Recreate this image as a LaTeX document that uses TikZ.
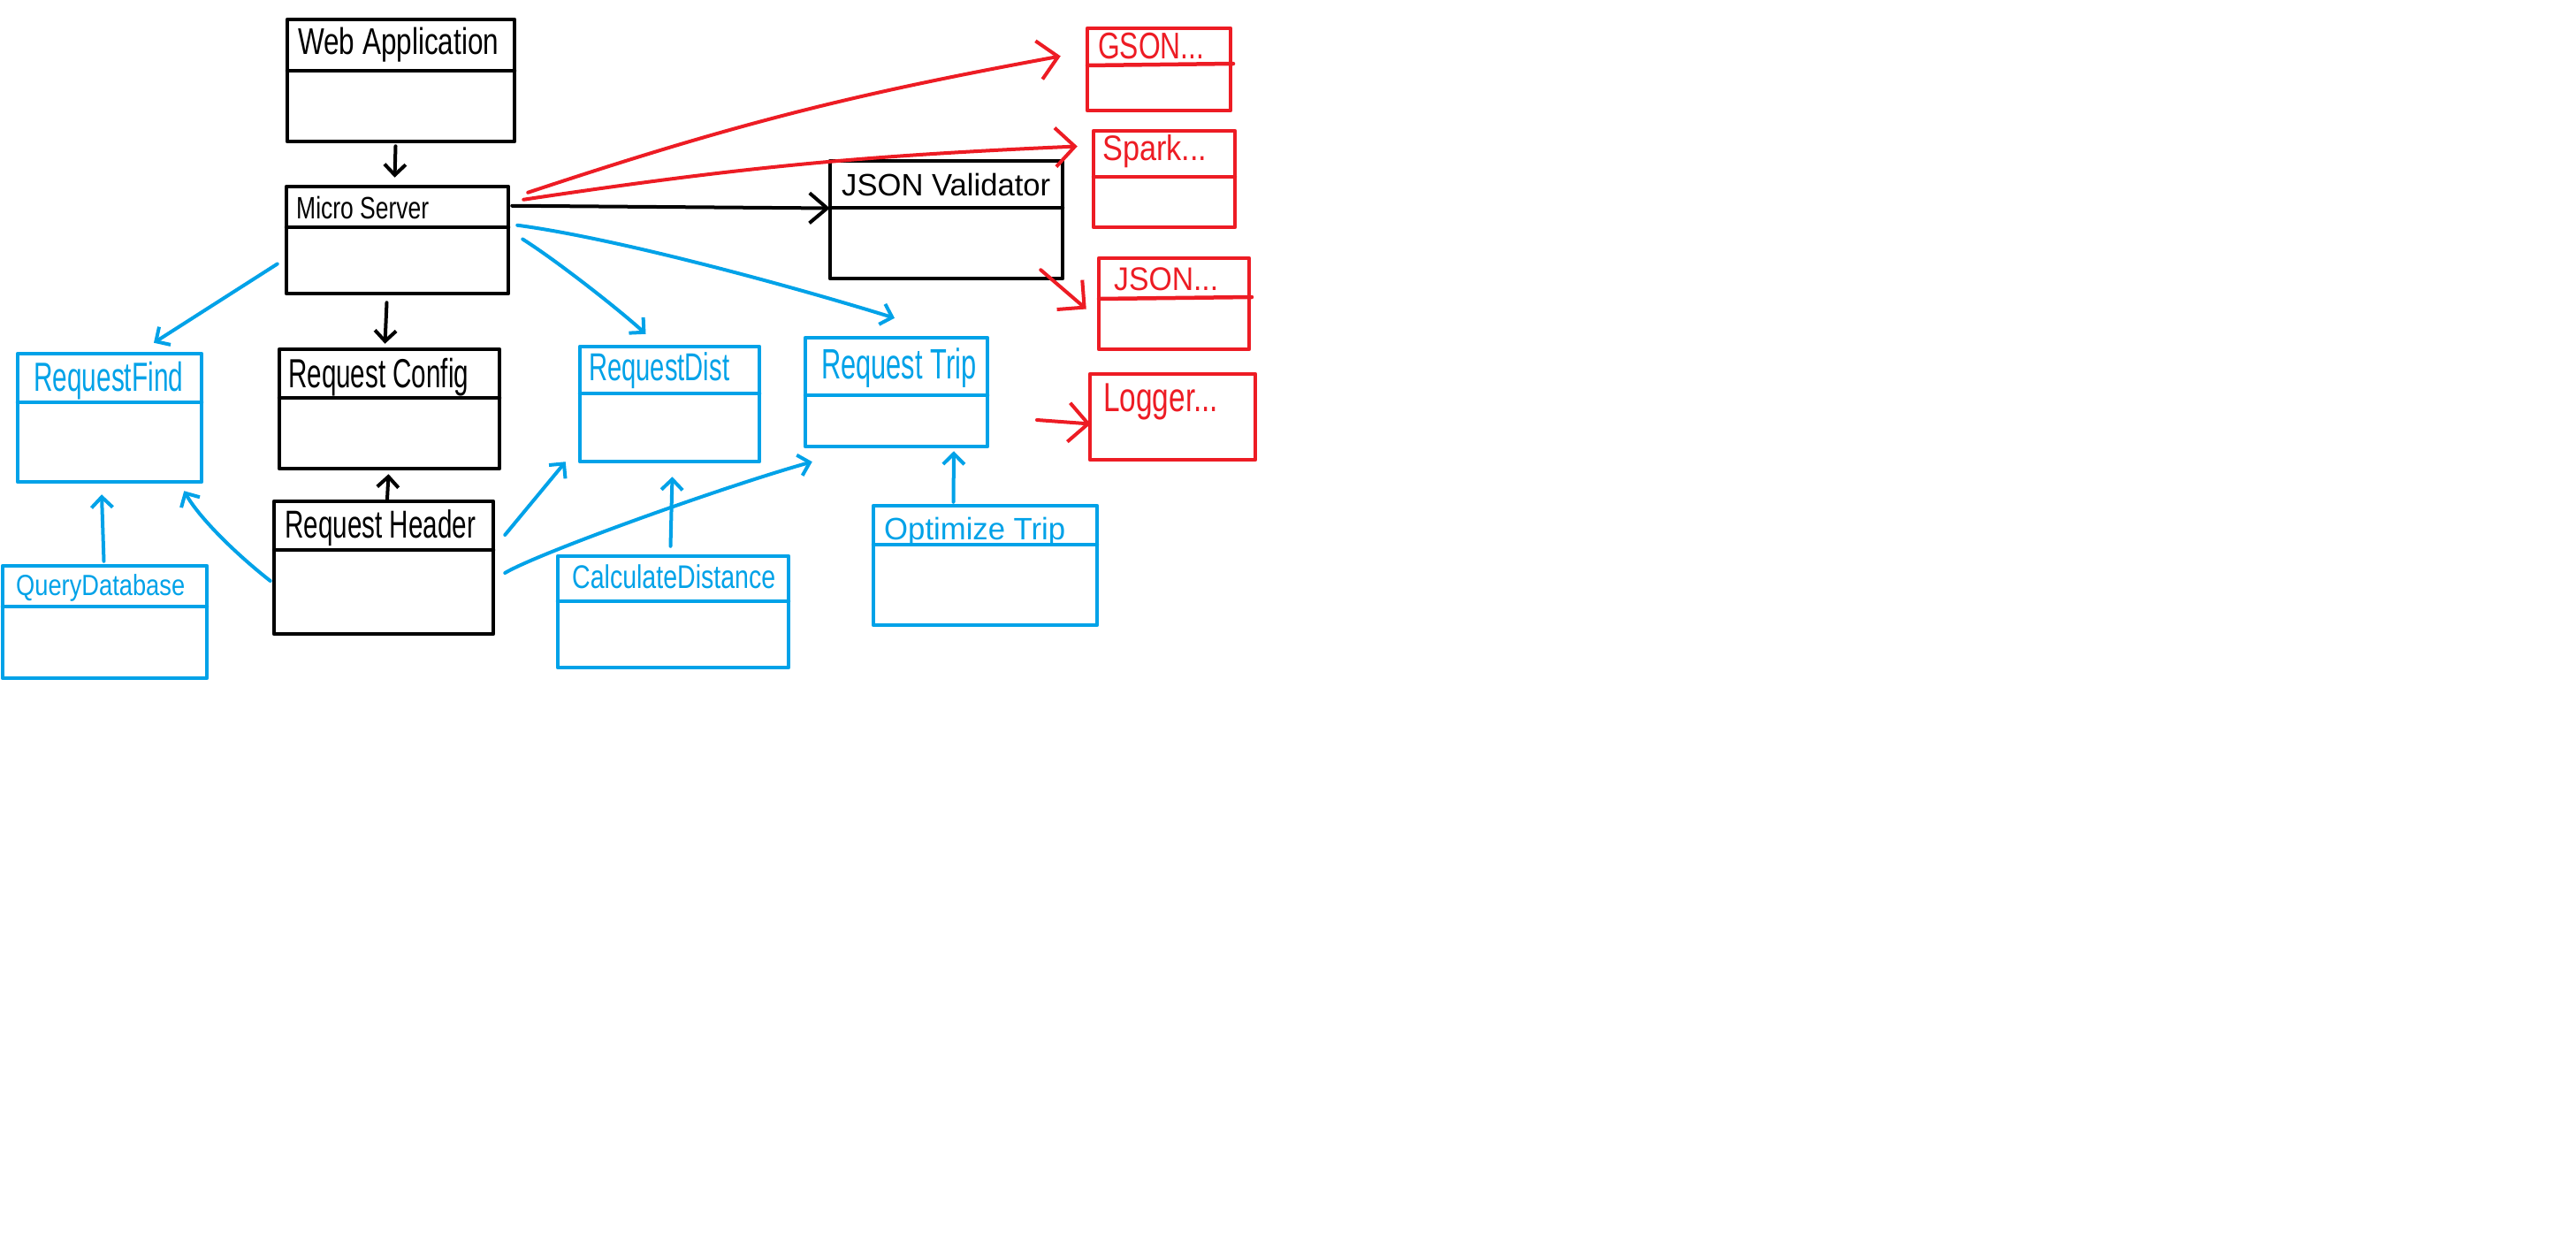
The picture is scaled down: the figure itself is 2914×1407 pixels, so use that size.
\documentclass[tikz,border=0pt]{standalone}
\usepackage{fontspec}
\setmainfont{Liberation Sans}
\usetikzlibrary{arrows.meta,fit}
\definecolor{pblue}{RGB}{0,162,232}
\definecolor{pred}{RGB}{237,28,36}
\newcommand\lbl[3]{\resizebox{#1pt}{\height}{\fontsize{#2pt}{#2pt}\selectfont #3}}
\begin{document}
\begin{tikzpicture}[x=1pt,y=-1pt,
  box/.style={draw, line width=4.5pt, inner sep=0pt, line join=round},
  ttl/.style={anchor=base west, inner sep=0pt},
  div/.style={line width=4.5pt, line cap=round},
  arr/.style={line width=4pt, line cap=round, line join=round, -{Straight Barb[length=12pt,width=24pt]}},
  midarr/.style={line width=4pt, line cap=round, line join=round, -{Straight Barb[length=20pt,width=34pt]}},
  bigarr/.style={line width=4pt, line cap=round, line join=round, -{Straight Barb[length=22pt,width=44pt]}}
]
\fill[white] (0,0) rectangle (2914,1407);
\path[use as bounding box] (0,0) rectangle (2914,1407);

% ---------- black boxes ----------
\node[box, draw=black, fit={(325,22) (582,160)}] (web) {};
\draw[div] (325,80) -- (582,80);
\node[ttl] (webT) at (337,62) {\lbl{227}{42}{Web Application}};

\node[box, draw=black, fit={(324,211) (575,332)}] (micro) {};
\draw[div] (324,257) -- (575,257);
\node[ttl] (microT) at (335,247) {\lbl{150}{35}{Micro Server}};

\node[box, draw=black, fit={(316,395) (565,530)}] (config) {};
\draw[div] (316,450) -- (565,450);
\node[ttl] (configT) at (326,438) {\lbl{204}{46}{Request Config}};

\node[box, draw=black, fit={(310,567) (558,717)}] (header) {};
\draw[div] (310,622) -- (558,622);
\node[ttl] (headerT) at (322,608) {\lbl{216}{44}{Request Header}};

\node[box, draw=black, fit={(939,182) (1202,315)}] (jv) {};
\draw[div] (939,235) -- (1202,235);
\node[ttl] (jvT) at (952,222) {\lbl{236}{35}{JSON Validator}};

% ---------- blue boxes ----------
\node[box, draw=pblue, fit={(20,400) (228,545)}] (find) {};
\draw[div, pblue] (20,455) -- (228,455);
\node[ttl, text=pblue] (findT) at (38,442) {\lbl{169}{46}{RequestFind}};

\node[box, draw=pblue, fit={(3,640) (234,767)}] (query) {};
\draw[div, pblue] (3,686) -- (234,686);
\node[ttl, text=pblue] (queryT) at (18,673) {\lbl{191}{33}{QueryDatabase}};

\node[box, draw=pblue, fit={(656,392) (859,522)}] (dist) {};
\draw[div, pblue] (656,445) -- (859,445);
\node[ttl, text=pblue] (distT) at (666,430) {\lbl{159}{44}{RequestDist}};

\node[box, draw=pblue, fit={(911,382) (1117,505)}] (trip) {};
\draw[div, pblue] (911,447) -- (1117,447);
\node[ttl, text=pblue] (tripT) at (929,428) {\lbl{175}{48}{Request Trip}};

\node[box, draw=pblue, fit={(631,629) (892,755)}] (calc) {};
\draw[div, pblue] (631,680) -- (892,680);
\node[ttl, text=pblue] (calcT) at (647,665) {\lbl{230}{37}{CalculateDistance}};

\node[box, draw=pblue, fit={(988,572) (1241,707)}] (opt) {};
\draw[div, pblue] (988,616) -- (1241,616);
\node[ttl, text=pblue] (optT) at (1000,610) {\lbl{205}{35}{Optimize Trip}};

% ---------- red boxes ----------
\node[box, draw=pred, fit={(1230,32) (1392,125)}] (gson) {};
\draw[div, pred] (1230,74) -- (1395,72);
\node[ttl, text=pred] (gsonT) at (1242,67) {\lbl{120}{42}{GSON...}};

\node[box, draw=pred, fit={(1237,148) (1397,257)}] (spark) {};
\draw[div, pred] (1237,200) -- (1397,200);
\node[ttl, text=pred] (sparkT) at (1247,182) {\lbl{118}{40}{Spark...}};

\node[box, draw=pred, fit={(1243,292) (1413,395)}] (json) {};
\draw[div, pred] (1243,338) -- (1416,336);
\node[ttl, text=pred] (jsonT) at (1260,328) {\lbl{118}{37}{JSON...}};

\node[box, draw=pred, fit={(1233,423) (1420,520)}] (logger) {};
\node[ttl, text=pred] (loggerT) at (1248,465) {\lbl{130}{46}{Logger...}};

% ---------- black connectors ----------
\draw[arr] ([shift={(-6,3)}]web.south) -- ([shift={(-3,-8)}]micro.north);
\draw[arr] ([shift={(-12,8)}]micro.south) -- ([shift={(-5,-4)}]config.north);
\draw[arr] ([shift={(4,0)}]header.north) -- ([shift={(-1,4)}]config.south);
\draw[midarr] ([shift={(2,24)}]micro.north east) -- ([shift={(2,-13)}]jv.west);

% ---------- red connectors ----------
\draw[bigarr, pred] ([shift={(20,9)}]micro.north east) to[bend left=4] ([shift={(-28,-15)}]gson.west);
\draw[bigarr, pred] ([shift={(15,17)}]micro.north east) to[bend left=3] ([shift={(-16,-37)}]spark.west);
\draw[bigarr, pred] ([shift={(-27,-12)}]jv.south east) -- ([shift={(-12,6)}]json.west);
\coordinate (lgstart) at (1173,475);
\draw[bigarr, pred] (lgstart) -- ([shift={(3,8)}]logger.west);

% ---------- blue connectors ----------
\draw[arr, pblue] ([shift={(-8,27)}]micro.west) -- ([shift={(50,-10)}]find.north);
\draw[arr, pblue] ([shift={(14,-1)}]micro.east) .. controls (630,295) and (700,350) .. ([shift={(-27,-12)}]dist.north);
\draw[arr, pblue] ([shift={(8,46)}]micro.north east) .. controls (700,270) and (900,325) .. ([shift={(-2,-20)}]trip.north);
\draw[arr, pblue] ([shift={(-2,15)}]header.west) .. controls (265,625) and (225,585) .. ([shift={(-22,8)}]find.south east);
\draw[arr, pblue] ([shift={(-1,-3)}]query.north) -- ([shift={(-9,12)}]find.south);
\draw[arr, pblue] ([shift={(11,-37)}]header.east) -- ([shift={(-14,-2)}]dist.south west);
\draw[arr, pblue] ([shift={(11,6)}]header.east) .. controls (610,625) and (820,550) .. ([shift={(10,15)}]trip.south west);
\draw[arr, pblue] ([shift={(-3,-9)}]calc.north) -- ([shift={(3,15)}]dist.south);
\draw[arr, pblue] ([shift={(-36,-2)}]opt.north) -- ([shift={(65,3)}]trip.south);
\end{tikzpicture}
\end{document}
